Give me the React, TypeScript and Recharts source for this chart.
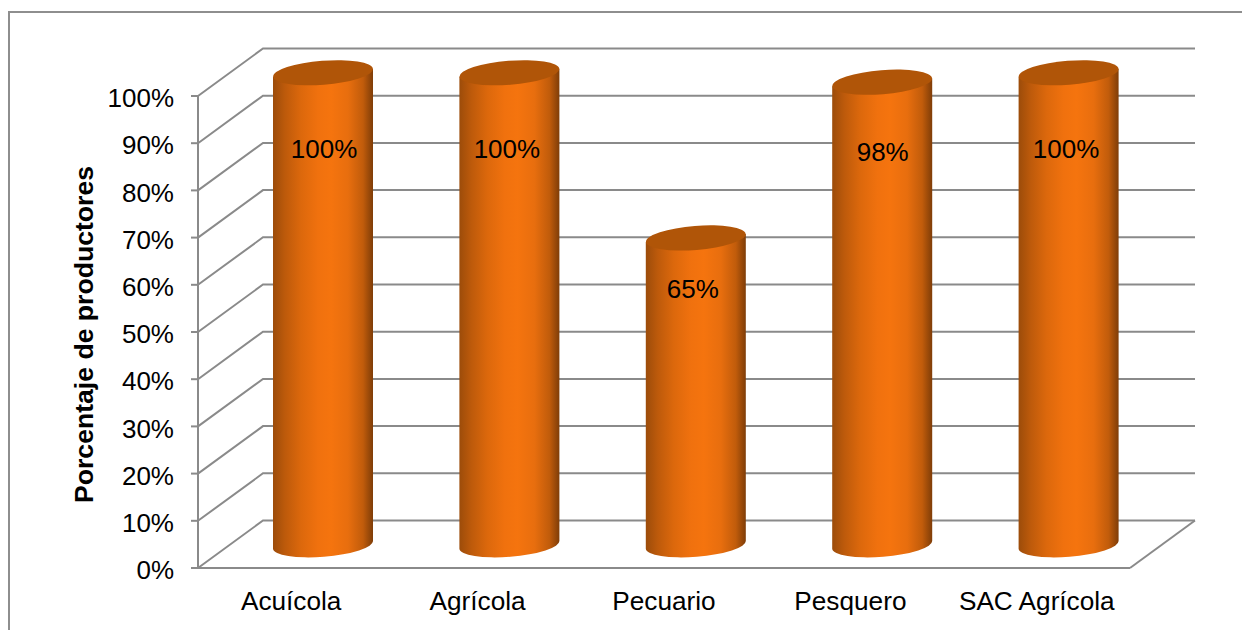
import { BarChart, Bar, XAxis, YAxis, CartesianGrid, LabelList } from 'recharts';

const sectores = ['Acuícola', 'Agrícola', 'Pecuario', 'Pesquero', 'SAC Agrícola'];
const productores = [100, 100, 65, 98, 100];
const ticksY = [0, 10, 20, 30, 40, 50, 60, 70, 80, 90, 100];

const data = sectores.map((sector, i) => ({ sector, productores: productores[i] }));

// depth of the fake 3D box, front plane to back wall
const DEPTH_X = 65;
const DEPTH_Y = 47.5;
const GRID = '#8a8a8a';
const FONT = '"Liberation Sans", Arial, sans-serif';

function GridLine(props: any) {
  const { x1, x2, y1, offset } = props;
  const isFloor = Math.abs(y1 - (offset.top + offset.height)) < 1;
  const bx = x2 + DEPTH_X;
  const by = y1 - DEPTH_Y;
  return (
    <g key={props.key} fill="none" stroke={GRID} strokeWidth={2}>
      <path d={`M${x1},${y1} L${x1 + DEPTH_X},${by} L${bx},${by}`} />
      {isFloor && <path d={`M${x2},${y1} L${bx},${by}`} />}
    </g>
  );
}

function Cylinder(props: any) {
  const { x, y, width, height } = props;
  const rx = width / 2;
  const ry = 12;
  const tilt = 4;
  const cx = x + rx + DEPTH_X / 2 - 0.5;
  const top = y - DEPTH_Y / 2 + 0.5;
  const bottom = y + height - DEPTH_Y / 2 + 0.5;
  const angle = (Math.atan((-2 * tilt) / width) * 180) / Math.PI;
  return (
    <g>
      <path
        d={`M${cx - rx},${top + tilt} L${cx - rx},${bottom + tilt} A${rx},${ry} ${angle} 0 0 ${cx + rx},${bottom - tilt} L${cx + rx},${top - tilt} Z`}
        fill="url(#cilindro)"
      />
      <ellipse cx={cx} cy={top} rx={rx} ry={ry} fill="#b05508" transform={`rotate(${angle} ${cx} ${top})`} />
    </g>
  );
}

// labels sit by hand inside each cylinder, not at a fixed distance from the top
const labelShift = [
  { dx: 0.5, dy: 53 },
  { dx: -3, dy: 53 },
  { dx: -3.5, dy: 28 },
  { dx: 0, dy: 47 },
  { dx: -3, dy: 53 },
];

function BarLabel(props: any) {
  const { x, y, width, value, index } = props;
  const s = labelShift[index];
  return (
    <text
      x={x + width / 2 + DEPTH_X / 2 + s.dx}
      y={y + s.dy}
      textAnchor="middle"
      dominantBaseline="central"
      fontFamily={FONT}
      fontSize={26}
      fill="#000"
    >
      {value}%
    </text>
  );
}

export default function App() {
  return (
    <div style={{ position: 'absolute', left: 0, top: 0, width: 1242, height: 630, background: '#fff', overflow: 'hidden' }}>
      <div
        style={{
          position: 'absolute',
          left: 8,
          top: 11,
          width: 1300,
          height: 700,
          borderLeft: '2px solid #8e8e8e',
          borderTop: '2px solid #8e8e8e',
        }}
      />
      <div style={{ position: 'absolute', left: 0, top: 0 }}>
        <BarChart
          width={1242}
          height={630}
          data={data}
          margin={{ top: 96, right: 112, bottom: 0, left: 0 }}
          barSize={100}
        >
          <defs>
            <linearGradient id="cilindro" x1="0" y1="0" x2="1" y2="0">
              <stop offset="0%" stopColor="#9c4c0a" />
              <stop offset="12%" stopColor="#bd5a0b" />
              <stop offset="28%" stopColor="#dc680c" />
              <stop offset="45%" stopColor="#f0710e" />
              <stop offset="58%" stopColor="#f5740e" />
              <stop offset="75%" stopColor="#e86e0e" />
              <stop offset="90%" stopColor="#c15c0b" />
              <stop offset="100%" stopColor="#7f3d08" />
            </linearGradient>
          </defs>
          <CartesianGrid vertical={false} horizontal={(p: any) => <GridLine {...p} />} />
          <XAxis
            dataKey="sector"
            height={62}
            interval={0}
            tickLine={false}
            axisLine={{ stroke: GRID, strokeWidth: 2 }}
            tickMargin={17}
            tick={{ fontFamily: FONT, fontSize: 26.2, fill: '#000' }}
          />
          <YAxis
            width={198}
            domain={[0, 100]}
            ticks={ticksY}
            interval={0}
            tickFormatter={(v: number) => `${v}%`}
            tickSize={7}
            tickMargin={17}
            tickLine={{ stroke: GRID, strokeWidth: 2 }}
            axisLine={{ stroke: GRID, strokeWidth: 2 }}
            tick={{ fontFamily: FONT, fontSize: 26, fill: '#000', dy: 2 }}
            label={{
              value: 'Porcentaje de productores',
              angle: -90,
              position: 'insideLeft',
              offset: 84,
              dy: 2.5,
              style: { textAnchor: 'middle', fontFamily: FONT, fontSize: 26.6, fontWeight: 700, fill: '#000' },
            }}
          />
          <Bar dataKey="productores" isAnimationActive={false} shape={<Cylinder />}>
            <LabelList dataKey="productores" content={<BarLabel />} />
          </Bar>
        </BarChart>
      </div>
    </div>
  );
}
